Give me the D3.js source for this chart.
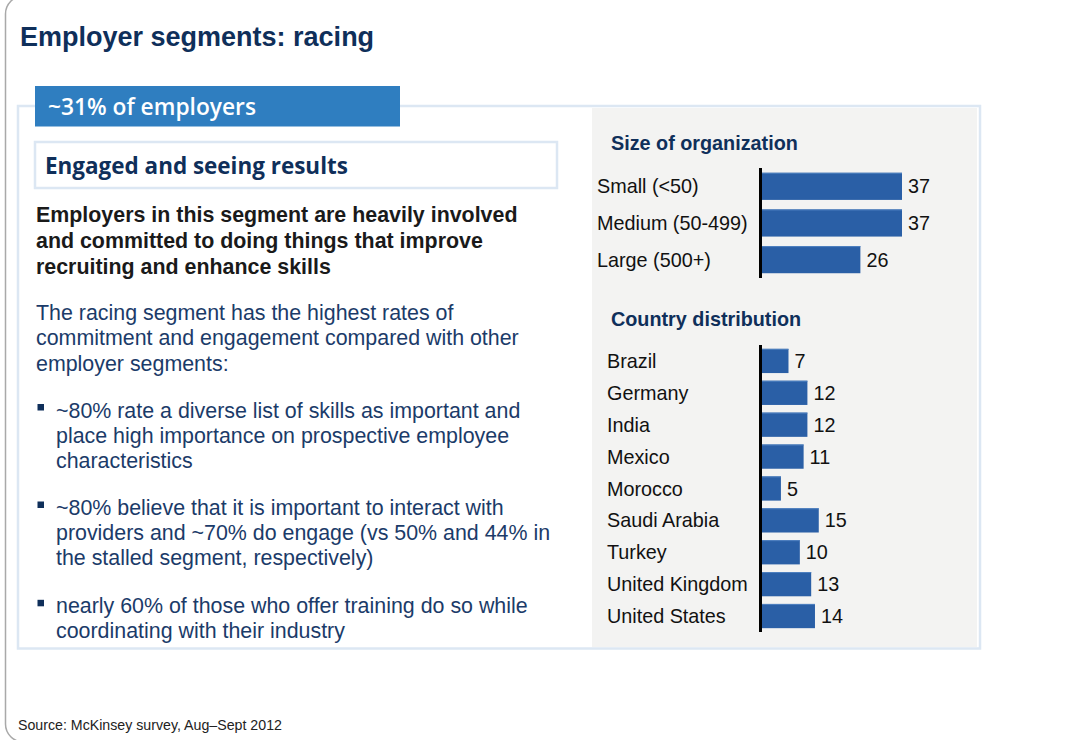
<!DOCTYPE html>
<html>
<head>
<meta charset="utf-8">
<script src="https://cdn.jsdelivr.net/npm/d3@7"></script>
<style>
  html, body { margin: 0; padding: 0; background: #ffffff; }
  svg { display: block; }
</style>
</head>
<body>
<svg id="chart" width="1077" height="740"></svg>
<script>
// ---------- data ----------
const sizeCategories = ["Small (<50)", "Medium (50-499)", "Large (500+)"];
const sizeValues = [37, 37, 26];

const countryCategories = ["Brazil", "Germany", "India", "Mexico", "Morocco",
  "Saudi Arabia", "Turkey", "United Kingdom", "United States"];
const countryValues = [7, 12, 12, 11, 5, 15, 10, 13, 14];

const titleText = "Employer segments: racing";
const shareText = "~31% of employers";
const segmentText = "Engaged and seeing results";
const boldLines = [
  "Employers in this segment are heavily involved",
  "and committed to doing things that improve",
  "recruiting and enhance skills"
];
const introLines = [
  "The racing segment has the highest rates of",
  "commitment and engagement compared with other",
  "employer segments:"
];
const bulletLines = [
  ["~80% rate a diverse list of skills as important and",
   "place high importance on prospective employee",
   "characteristics"],
  ["~80% believe that it is important to interact with",
   "providers and ~70% do engage (vs 50% and 44% in",
   "the stalled segment, respectively)"],
  ["nearly 60% of those who offer training do so while",
   "coordinating with their industry"]
];
const sizeTitle = "Size of organization";
const countryTitle = "Country distribution";
const sourceText = "Source: McKinsey survey, Aug\u2013Sept 2012";

// ---------- styles ----------
const NAVY = "#0f2f5a";
const BODY_BLUE = "#1b3b69";
const BAR = "#2a5fa6";
const LIGHT_BORDER = "#dce7f3";
const SANS = "'Liberation Sans', Arial, sans-serif";
const GEO = "'Open Sans', 'DejaVu Sans', sans-serif";

const svg = d3.select("#chart");

function fitWidth(sel, target) {
  const w = sel.node().getComputedTextLength();
  const fs = parseFloat(sel.attr("font-size"));
  sel.attr("font-size", (fs * target / w).toFixed(2));
}

// outer frame
svg.append("rect")
  .attr("x", 5.5).attr("y", -4).attr("width", 1200).attr("height", 746)
  .attr("rx", 18).attr("ry", 18)
  .attr("fill", "none").attr("stroke", "#a9a9a9").attr("stroke-width", 1.5);

// title
svg.append("text")
  .attr("x", 20).attr("y", 46)
  .attr("font-family", SANS).attr("font-weight", "bold").attr("font-size", 27)
  .attr("fill", NAVY).text(titleText);

// panel border
svg.append("rect")
  .attr("x", 18).attr("y", 106).attr("width", 962).attr("height", 542.5)
  .attr("fill", "none").attr("stroke", LIGHT_BORDER).attr("stroke-width", 2.5);

// grey chart panel
svg.append("rect")
  .attr("x", 592).attr("y", 108).attr("width", 385).attr("height", 539)
  .attr("fill", "#f3f3f2");

// header bar
svg.append("rect")
  .attr("x", 35).attr("y", 86).attr("width", 365).attr("height", 40.5)
  .attr("fill", "#2f7ec0");
const shareT = svg.append("text")
  .attr("x", 48).attr("y", 115)
  .attr("font-family", GEO).attr("font-weight", 600).attr("font-size", 21)
  .attr("fill", "#ffffff").text(shareText);
fitWidth(shareT, 208);

// segment box
svg.append("rect")
  .attr("x", 35).attr("y", 142).attr("width", 522).attr("height", 46)
  .attr("fill", "#ffffff").attr("stroke", LIGHT_BORDER).attr("stroke-width", 2.5);
const segT = svg.append("text")
  .attr("x", 45).attr("y", 174)
  .attr("font-family", GEO).attr("font-weight", 700).attr("font-size", 21)
  .attr("fill", NAVY).text(segmentText);
fitWidth(segT, 303);

// bold statement
const BODY_FS = 21.4;
const LINE_H = 25.8;
svg.append("g").selectAll("text").data(boldLines).join("text")
  .attr("x", 36).attr("y", (d, i) => 222 + i * LINE_H)
  .attr("font-family", SANS).attr("font-weight", "bold").attr("font-size", BODY_FS)
  .attr("fill", "#1a1a1a").text(d => d);

// intro
svg.append("g").selectAll("text").data(introLines).join("text")
  .attr("x", 36).attr("y", (d, i) => 319.5 + i * 25.6)
  .attr("font-family", SANS).attr("font-size", BODY_FS)
  .attr("fill", BODY_BLUE).text(d => d);

// bullets
const bulletTops = [417.5, 515, 613.3];
bulletLines.forEach((lines, bi) => {
  const g = svg.append("g");
  g.append("rect")
    .attr("x", 37.5).attr("y", bulletTops[bi] - 13.5).attr("width", 6.5).attr("height", 6.5)
    .attr("fill", NAVY);
  g.selectAll("text").data(lines).join("text")
    .attr("x", 56).attr("y", (d, i) => bulletTops[bi] + i * 25.1)
    .attr("font-family", SANS).attr("font-size", BODY_FS)
    .attr("fill", BODY_BLUE).text(d => d);
});

// ---------- charts ----------
const CH_FS = 19.8;
const x = d3.scaleLinear().domain([0, 37]).range([762, 902]);

function barChart(cfg) {
  const y = d3.scaleBand().domain(cfg.categories).range(cfg.range).paddingInner(cfg.pad).paddingOuter(cfg.pad / 2);
  const g = svg.append("g");
  g.append("text")
    .attr("x", 611).attr("y", cfg.titleY)
    .attr("font-family", SANS).attr("font-weight", "bold").attr("font-size", CH_FS)
    .attr("fill", NAVY).text(cfg.title);
  const data = cfg.categories.map((c, i) => ({ c, v: cfg.values[i] }));
  g.selectAll("rect.bar").data(data).join("rect")
    .attr("class", "bar")
    .attr("x", x(0)).attr("y", d => y(d.c))
    .attr("width", d => x(d.v) - x(0)).attr("height", y.bandwidth())
    .attr("fill", BAR);
  g.selectAll("rect.hl").data(data).join("rect")
    .attr("class", "hl")
    .attr("x", x(0)).attr("y", d => y(d.c))
    .attr("width", d => x(d.v) - x(0)).attr("height", 1)
    .attr("fill", "#4f81c0");
  g.selectAll("text.val").data(data).join("text")
    .attr("class", "val")
    .attr("x", d => x(d.v) + 6).attr("y", d => y(d.c) + y.bandwidth() / 2 + 7)
    .attr("font-family", SANS).attr("font-size", CH_FS).attr("fill", "#111")
    .text(d => d.v);
  // category axis
  const axis = d3.axisLeft(y).tickSize(0).tickPadding(0);
  const ax = g.append("g").attr("transform", `translate(${cfg.labelX},0)`).call(axis);
  ax.select(".domain").remove();
  ax.selectAll("text")
    .attr("text-anchor", "start").attr("x", 0).attr("dy", null)
    .attr("y", 7)
    .attr("font-family", SANS).attr("font-size", CH_FS).attr("fill", "#111");
  g.append("line")
    .attr("x1", 760.5).attr("x2", 760.5)
    .attr("y1", cfg.range[0]).attr("y2", cfg.range[1])
    .attr("stroke", "#000").attr("stroke-width", 3);
}

barChart({ categories: sizeCategories, values: sizeValues, range: [168, 278], pad: 0.26,
  title: sizeTitle, titleY: 150, labelX: 597 });
barChart({ categories: countryCategories, values: countryValues, range: [345, 632], pad: 0.24,
  title: countryTitle, titleY: 326, labelX: 607 });

// source
svg.append("text")
  .attr("x", 18).attr("y", 730)
  .attr("font-family", SANS).attr("font-size", 14.2)
  .attr("fill", "#222").text(sourceText);
</script>
</body>
</html>
